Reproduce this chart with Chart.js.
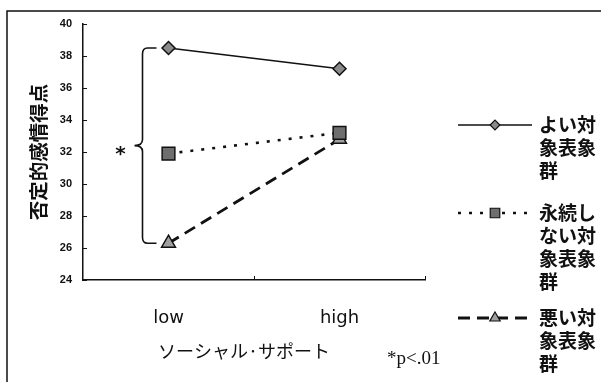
<!DOCTYPE html>
<html>
<head>
<meta charset="utf-8">
<script src="https://cdn.jsdelivr.net/npm/chart.js@4/dist/chart.umd.min.js"></script>
<style>
  html, body { margin: 0; padding: 0; background: #fff; }
  canvas { display: block; }
</style>
</head>
<body>
<canvas id="c" width="601" height="382"></canvas>
<script>
// Data
const categories = ['low', 'high'];
const seriesNames = ['よい対象表象群', '永続しない対象表象群', '悪い対象表象群'];
const legendLines = [
  ['よい対', '象表象', '群'],
  ['永続し', 'ない対', '象表象', '群'],
  ['悪い対', '象表象', '群']
];
const goodValues = [38.5, 37.2];
const unstableValues = [31.9, 33.2];
const badValues = [26.3, 32.8];
const yTicks = [24, 26, 28, 30, 32, 34, 36, 38, 40];
const yAxisTitle = '否定的感情得点';
const xAxisTitle = 'ソーシャル·サポート';
const significanceNote = '*p<.01';
const bracketMark = '*';

const INK = '#111';
const JP = '"Noto Sans CJK JP", "Noto Sans CJK SC", sans-serif';

// Frame, inward ticks, significance bracket, x title, note and legend
const decorations = {
  id: 'decorations',
  afterDraw(chart) {
    const ctx = chart.ctx;
    const x = chart.scales.x, y = chart.scales.y;
    const area = chart.chartArea;
    ctx.save();
    ctx.strokeStyle = INK;
    ctx.fillStyle = INK;

    // outer frame (top and left edges)
    ctx.lineWidth = 1.5;
    ctx.beginPath();
    ctx.moveTo(7, 382); ctx.lineTo(7, 11); ctx.lineTo(601, 11);
    ctx.stroke();

    // inward tick marks
    ctx.lineWidth = 1;
    ctx.beginPath();
    yTicks.forEach(v => {
      const py = Math.round(y.getPixelForValue(v)) + 0.5;
      ctx.moveTo(area.left, py); ctx.lineTo(area.left + 4, py);
    });
    const bounds = [];
    for (let i = 0; i < categories.length - 1; i++) {
      bounds.push((x.getPixelForValue(i) + x.getPixelForValue(i + 1)) / 2);
    }
    bounds.push(area.right);
    bounds.forEach(px => {
      const bx = Math.round(px) + 0.5;
      ctx.moveTo(bx, area.bottom); ctx.lineTo(bx, area.bottom - 4);
    });
    ctx.stroke();

    // curly bracket linking the low-condition extremes
    const cx = x.getPixelForValue(0);
    const yTop = y.getPixelForValue(goodValues[0]);
    const yBot = y.getPixelForValue(badValues[0]);
    const yMid = (yTop + yBot) / 2;
    const vx = cx - 26, tipX = cx - 34, endX = cx - 12;
    ctx.lineWidth = 1.6;
    ctx.beginPath();
    ctx.moveTo(endX, yTop);
    ctx.lineTo(vx + 5, yTop);
    ctx.quadraticCurveTo(vx, yTop, vx, yTop + 6);
    ctx.lineTo(vx, yMid - 6);
    ctx.quadraticCurveTo(vx, yMid, tipX, yMid);
    ctx.quadraticCurveTo(vx, yMid, vx, yMid + 6);
    ctx.lineTo(vx, yBot - 6);
    ctx.quadraticCurveTo(vx, yBot, vx + 5, yBot);
    ctx.lineTo(endX, yBot);
    ctx.stroke();
    ctx.font = 'bold 20px "DejaVu Sans", sans-serif';
    ctx.textAlign = 'center';
    ctx.textBaseline = 'middle';
    ctx.fillText(bracketMark, cx - 48, yMid + 9);

    // x axis title and significance note
    ctx.font = '18px ' + JP;
    ctx.fillText(xAxisTitle, 244, 351);
    ctx.font = '19px "Liberation Serif", serif';
    ctx.textAlign = 'left';
    ctx.fillText(significanceNote, 387, 359);

    // legend built from the dataset styles
    const entryY = [125, 213, 318];
    chart.data.datasets.forEach((ds, i) => {
      const ly = entryY[i];
      ctx.lineWidth = ds.borderWidth;
      ctx.setLineDash(ds.borderDash || []);
      ctx.beginPath();
      ctx.moveTo(458, ly); ctx.lineTo(532, ly);
      ctx.stroke();
      ctx.setLineDash([]);
      ctx.fillStyle = ds.pointBackgroundColor;
      ctx.strokeStyle = ds.pointBorderColor;
      ctx.lineWidth = 1.2;
      Chart.helpers.drawPoint(ctx, {
        pointStyle: ds.pointStyle,
        radius: ds.pointRadius * 0.75,
        rotation: 0,
        borderWidth: 1.2
      }, 495, ly);
      ctx.fillStyle = INK;
      ctx.strokeStyle = INK;
      ctx.font = 'bold 19px ' + JP;
      ctx.textAlign = 'left';
      ctx.textBaseline = 'middle';
      legendLines[i].forEach((t, k) => ctx.fillText(t, 539, ly + k * 23));
    });
    ctx.restore();
  }
};

new Chart(document.getElementById('c'), {
  type: 'line',
  data: {
    labels: categories,
    datasets: [
      {
        label: seriesNames[0],
        data: goodValues,
        borderColor: INK,
        borderWidth: 1.6,
        pointStyle: 'rectRot',
        pointRadius: 6.5,
        pointBackgroundColor: '#8a8a8a',
        pointBorderColor: INK,
        pointBorderWidth: 1.5
      },
      {
        label: seriesNames[1],
        data: unstableValues,
        borderColor: INK,
        borderWidth: 2.6,
        borderDash: [3, 8],
        pointStyle: 'rect',
        pointRadius: 9,
        pointBackgroundColor: '#6e6e6e',
        pointBorderColor: INK,
        pointBorderWidth: 1.5
      },
      {
        label: seriesNames[2],
        data: badValues,
        borderColor: INK,
        borderWidth: 2.8,
        borderDash: [12, 7],
        pointStyle: 'triangle',
        pointRadius: 8,
        pointBackgroundColor: '#a0a0a0',
        pointBorderColor: INK,
        pointBorderWidth: 1.5
      }
    ]
  },
  options: {
    responsive: false,
    animation: false,
    devicePixelRatio: 1,
    layout: { padding: { left: 0, top: 24, right: 176, bottom: 0 } },
    plugins: { legend: { display: false }, tooltip: { enabled: false } },
    elements: { line: { tension: 0 } },
    scales: {
      x: {
        type: 'category',
        offset: true,
        grid: { display: false, drawTicks: false },
        border: { display: true, color: INK, width: 1.5 },
        ticks: { font: { family: 'DejaVu Sans', size: 18 }, color: INK, padding: 28 },
        afterFit(s) { s.height = 102; }
      },
      y: {
        min: 24,
        max: 40,
        afterBuildTicks(s) { s.ticks = yTicks.map(v => ({ value: v })); },
        grid: { display: false, drawTicks: false },
        border: { display: true, color: INK, width: 1.5 },
        ticks: { font: { family: 'Liberation Sans', size: 11, weight: 'bold' }, color: INK, padding: 11 },
        title: {
          display: true,
          text: yAxisTitle,
          color: INK,
          font: { family: JP, size: 19.5, weight: 'bold' },
          padding: { top: 27, bottom: 0 }
        },
        afterFit(s) { s.width = 83; }
      }
    }
  },
  plugins: [decorations]
});
</script>
</body>
</html>
